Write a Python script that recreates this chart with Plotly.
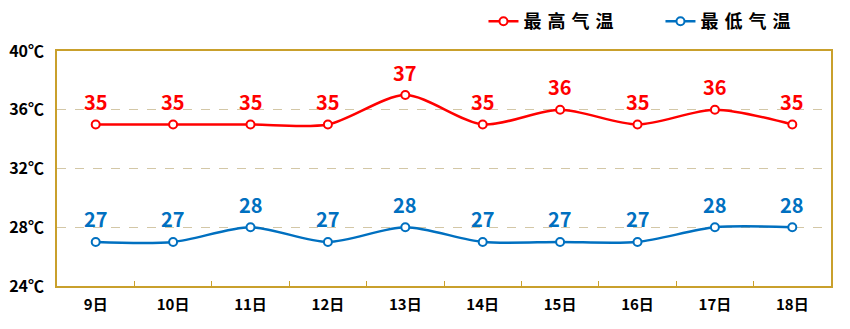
import plotly.graph_objects as go

days = ["9日", "10日", "11日", "12日", "13日", "14日", "15日", "16日", "17日", "18日"]
high_temps = [35, 35, 35, 35, 37, 35, 36, 35, 36, 35]
low_temps = [27, 27, 28, 27, 28, 27, 27, 27, 28, 28]
y_ticks = [24, 28, 32, 36, 40]
y_tick_labels = ["24℃", "28℃", "32℃", "36℃", "40℃"]

RED = "#FF0000"
BLUE = "#0070C0"
GOLD = "#C9A02C"
TAN = "#D3C7A6"
FONT = "Noto Sans CJK SC"
SP = "\u2004"

fig = go.Figure()

series = [
    (SP.join("最高气温"), high_temps, RED),
    (SP.join("最低气温"), low_temps, BLUE),
]
for name, vals, color in series:
    fig.add_trace(go.Scatter(
        x=days, y=vals, name=name,
        mode="lines+markers",
        line=dict(color=color, width=2.5, shape="spline", smoothing=0.8),
        marker=dict(size=8, color="white", line=dict(color=color, width=2)),
        cliponaxis=False,
    ))
    # value labels above each point
    for d, v in zip(days, vals):
        fig.add_annotation(
            x=d, y=v, text=str(v), showarrow=False,
            yshift=23, yanchor="middle",
            font=dict(family=FONT, size=20, color=color, weight="bold"),
        )

# round markers on the value axis at each tick
fig.add_trace(go.Scatter(
    x=[-0.5] * len(y_ticks), y=y_ticks, mode="markers",
    marker=dict(size=8, color="#C8B88C"),
    showlegend=False, hoverinfo="skip", cliponaxis=False,
))

fig.update_layout(
    width=850, height=329,
    margin=dict(l=57, r=19, t=51, b=43, autoexpand=False),
    paper_bgcolor="white", plot_bgcolor="white",
    font=dict(family=FONT, color="black"),
    legend=dict(
        orientation="h", x=0.551, xanchor="left", y=1.125, yanchor="middle",
        font=dict(family=FONT, size=18, color="black", weight="bold"),
        itemwidth=30,
        entrywidth=132, entrywidthmode="pixels",
        bgcolor="rgba(0,0,0,0)",
    ),
    xaxis=dict(
        type="category", range=[-0.5, 9.5],
        showline=True, linecolor=GOLD, linewidth=1.5, mirror=True,
        showgrid=False, zeroline=False,
        ticks="inside", ticklen=5, tickcolor=GOLD, tickson="boundaries",
        tickfont=dict(family=FONT, size=15, color="black", weight="bold"),
        ticklabelstandoff=4,
    ),
    yaxis=dict(
        range=[24, 40], tickvals=y_ticks, ticktext=y_tick_labels,
        showline=True, linecolor=GOLD, linewidth=1.5, mirror=True,
        showgrid=True, gridcolor=TAN, griddash="dash", gridwidth=1,
        zeroline=False, ticks="",
        tickfont=dict(family=FONT, size=16, color="black", weight="bold"),
        ticklabelstandoff=8,
    ),
)

fig.write_html("out.html")
